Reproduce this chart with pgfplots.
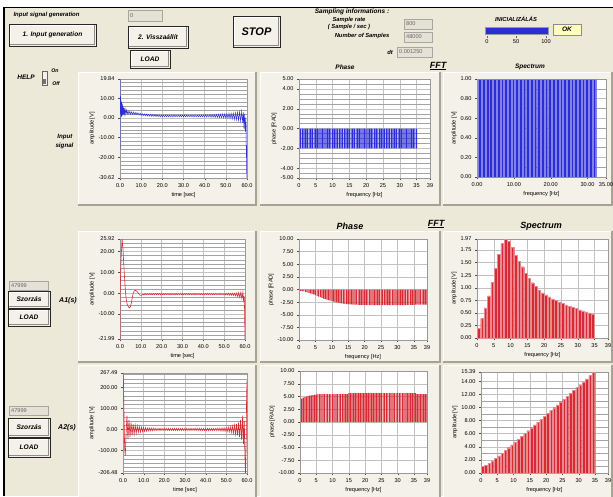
\documentclass[border=0pt]{standalone}
\usepackage{fontspec}
\setmainfont{Liberation Sans}
\usepackage{pgfplots}
\pgfplotsset{compat=1.18}
\definecolor{bg}{RGB}{236,233,216}
\definecolor{face}{RGB}{244,242,232}
\definecolor{shadow}{RGB}{165,162,150}
\definecolor{boxbg}{RGB}{228,226,212}
\definecolor{lvblue}{RGB}{45,45,215}
\definecolor{lvred}{RGB}{214,42,52}
\newcommand{\tk}{\fontsize{5.6}{6.2}\selectfont}
\newcommand{\bi}[1]{\fontsize{#1}{#1}\selectfont\bfseries\itshape}
\newcommand{\lvframe}[4]{%
 \fill[face] (#1,-#2) rectangle (#3,-#4);
 \draw[white,line width=0.8pt] (#1,-#4) -- (#1,-#2) -- (#3,-#2);
 \draw[shadow,line width=1.6pt] (#3,-#2) -- (#3,-#4) -- (#1,-#4);}
\newcommand{\btn}[6]{%
 \fill[face] (#1,-#2) rectangle (#3,-#4);
 \draw[white,line width=0.8pt] (#1+1.2,-#4+1.2) -- (#1+1.2,-#2-1.2) -- (#3-1.2,-#2-1.2);
 \draw[black!45,line width=0.8pt] (#3-1.2,-#2-1.2) -- (#3-1.2,-#4+1.2) -- (#1+1.2,-#4+1.2);
 \draw[black!85,line width=0.6pt] (#1,-#2) rectangle (#3,-#4);
 \node[font=\bi{#6}] at ({(#1+#3)/2},{-(#2+#4)/2}) {#5};}
\newcommand{\ind}[5]{%
 \fill[boxbg] (#1,-#2) rectangle (#3,-#4);
 \draw[black!35,line width=0.4pt] (#1,-#2) rectangle (#3,-#4);
 \node[anchor=west,font=\tk,text=black!60,inner sep=1pt] at (#1+1,{-(#2+#4)/2}) {#5};}
\pgfplotsset{
 lv/.style={scale only axis, anchor=north west,
  axis background/.style={fill=white},
  axis line style={black!40,line width=0.4pt},
  xmajorgrids, ymajorgrids, yminorgrids,
  major grid style={black!24,line width=0.4pt},
  minor grid style={black!36,line width=0.3pt},
  tick align=outside, major tick length=2pt, minor tick length=0pt,
  tick style={black!70,line width=0.3pt},
  xtick pos=bottom, ytick pos=left,
  tick label style={font=\tk}, label style={font=\tk},
  /pgf/number format/assume math mode=true,
  xticklabel style={yshift=-0.5pt},
  xlabel style={yshift=2.5pt}, ylabel style={yshift=-3pt}},
 t1/.style={xticklabel style={/pgf/number format/fixed,/pgf/number format/fixed zerofill,/pgf/number format/precision=1}},
 x2/.style={xticklabel style={/pgf/number format/fixed,/pgf/number format/fixed zerofill,/pgf/number format/precision=2}},
 y2/.style={yticklabel style={/pgf/number format/fixed,/pgf/number format/fixed zerofill,/pgf/number format/precision=2}},
}
\begin{document}
\begin{tikzpicture}[x=1pt,y=1pt]
\useasboundingbox (0,0) rectangle (613,-496);
\fill[white] (0,0) rectangle (613,-496);
\fill[bg] (4,-8) rectangle (613,-496);
\draw[black,line width=1.4pt] (4,-496) -- (4,-7.5) -- (613,-7.5);
% frames
\lvframe{78}{72}{256}{205}
\lvframe{260}{72}{440}{205}
\lvframe{443}{72}{612}{205}
\lvframe{78}{231}{256}{362}
\lvframe{260}{231}{440}{362}
\lvframe{443}{231}{612}{362}
\lvframe{78}{365}{256}{500}
\lvframe{260}{365}{440}{500}
\lvframe{443}{365}{612}{500}
% top controls
\node[anchor=west,font=\bi{6}] at (10,-15) {Input signal generation};
\ind{128}{10}{162}{21}{0}
\btn{9}{24}{96}{46}{1. Input generation}{6.6}
\btn{128}{26}{188}{48}{2. Vissza\'all\'it}{6.6}
\btn{130}{50}{170}{68}{LOAD}{6.6}
\btn{233}{16}{280}{47}{STOP}{11}
\node[font=\bi{6.5}] at (352,-11.5) {Sampling informations :};
\node[font=\bi{5.8}] at (349,-20) {Sample rate};
\node[font=\bi{5.8}] at (349,-27) {( Sample / sec )};
\node[font=\bi{5.8}] at (362,-36) {Number of Samples};
\node[font=\bi{5.8}] at (390,-52) {dt};
\ind{404}{19}{432}{29}{800}
\ind{404}{32}{432}{42}{48000}
\ind{397}{47}{432}{57}{0.001250}
\node[font=\bi{5.8}] at (516,-19) {INICIALIZ\'AL\'AS};
\fill[lvblue] (485,-27) rectangle (548,-34);
\draw[black!40,line width=0.4pt] (485,-27) rectangle (548,-34);
\draw[black!60,line width=0.3pt] (487,-36) -- (487,-38) (516,-36) -- (516,-38) (546,-36) -- (546,-38);
\node[font=\tk] at (487,-42) {0};
\node[font=\tk] at (516,-42) {50};
\node[font=\tk] at (546,-42) {100};
\fill[yellow!25] (553,-24) rectangle (581,-35);
\draw[black!45,line width=0.4pt] (553,-24) rectangle (581,-35);
\node[font=\bi{6.5}] at (567,-29.5) {OK};
% help toggle
\node[font=\bi{6.5}] at (26,-77) {HELP};
\fill[face] (42,-71) rectangle (47,-85);
\draw[black!60,line width=0.4pt] (42,-71) rectangle (47,-85);
\fill[black!55] (42.8,-79) rectangle (46.2,-84);
\node[font=\bi{5.2}] at (55,-71) {On};
\node[font=\bi{5.2}] at (56,-84) {Off};
\node[anchor=east,font=\bi{6.2}] at (76,-137) {Input};
\node[anchor=east,font=\bi{6.2}] at (77,-146) {signal};
% titles
\node[font=\bi{6.5}] at (345,-67) {Phase};
\node[font=\bi{9}] at (438,-66) {\underline{FFT}};
\node[font=\bi{6.5}] at (530,-67) {Spectrum};
\node[font=\bi{9}] at (350,-226) {Phase};
\node[font=\bi{9}] at (436,-224) {\underline{FFT}};
\node[font=\bi{9}] at (541,-226) {Spectrum};
% left controls rows 2 and 3
\ind{9}{281}{48}{290}{47999}
\btn{8}{291}{50}{308}{Szorz\'as}{6.6}
\btn{8}{309}{50}{326}{LOAD}{6.6}
\node[font=\bi{7}] at (68,-301) {A1(s)};
\ind{9}{406}{48}{415}{47999}
\btn{8}{418}{50}{437}{Szorz\'as}{6.6}
\btn{8}{438}{50}{457}{LOAD}{6.6}
\node[font=\bi{7}] at (67,-428) {A2(s)};
% ---------- row 1 ----------
\begin{axis}[lv, at={(120pt,-79pt)}, width=127pt, height=99pt,
 xmin=0, xmax=60, ymin=-30.62, ymax=19.84,
 xtick={0,10,...,60}, ytick={-30.62,-20,-10,0,10,19.84},
 minor ytick={-28,-26,...,18}, t1, y2,
 xlabel={time [sec]}, ylabel={amplitude [V]}]
\addplot[lvblue, line width=0.5pt] coordinates {
(0,-16)(0.02,19.84)(0.12,4)(0.25,11)(0.4,2)(0.55,9)(0.7,0.5)(0.85,8)(1,1)(1.15,7)(1.3,1.5)(1.5,6)(1.7,1.8)(1.9,5)(2.1,2)(2.4,4.5)(2.7,2)(3,4)
(3.4,2)(3.8,3.6)(4.2,2)(4.6,3.3)(5,1.9)(5.5,3.1)(6,1.8)(6.5,3)(7,1.7)(7.5,2.8)(8,1.6)(8.5,2.6)(9,1.5)(9.5,2.4)(10,1.3)(10.5,2.2)(11,1.2)(11.5,2.1)(12,1.1)(12.5,2)(13,1)(13.5,1.9)(14,0.9)(14.5,1.8)(15,0.8)(15.5,1.7)(16,0.8)(16.5,1.7)(17,0.7)(17.5,1.6)(18,0.7)(18.5,1.6)(19,0.6)(19.5,1.5)
(20,0.6)(20.5,1.5)(21,0.6)(21.5,1.5)(22,0.6)(22.5,1.5)(23,0.6)(23.5,1.5)(24,0.6)(24.5,1.5)(25,0.6)(25.5,1.5)(26,0.6)(26.5,1.5)(27,0.6)(27.5,1.5)(28,0.6)(28.5,1.5)(29,0.6)(29.5,1.5)
(30,0.6)(30.5,1.5)(31,0.6)(31.5,1.5)(32,0.6)(32.5,1.5)(33,0.6)(33.5,1.5)(34,0.6)(34.5,1.5)(35,0.6)(35.5,1.5)(36,0.6)(36.5,1.5)(37,0.6)(37.5,1.5)(38,0.6)(38.5,1.5)(39,0.6)(39.5,1.5)
(40,0.6)(40.5,1.6)(41,0.5)(41.5,1.6)(42,0.5)(42.5,1.7)(43,0.4)(43.5,1.7)(44,0.4)(44.5,1.8)(45,0.3)(45.5,1.8)(46,0.3)(46.5,1.9)(47,0.2)(47.5,1.9)(48,0.1)(48.5,2)(49,0)(49.5,2.1)
(50,-0.1)(50.5,2.2)(51,-0.2)(51.5,2.3)(52,-0.3)(52.5,2.4)(53,-0.5)(53.5,2.5)(54,-0.7)(54.5,2.6)(55,-0.9)(55.5,2.8)(56,-1.2)(56.5,3)(57,-1.6)(57.5,3.2)(58,-2.5)(58.3,2.8)(58.6,-5.5)(58.9,2)(59.2,-7)(59.5,0)(59.7,-20)(59.8,-14)(59.9,-30.62)(60,-26)};
\end{axis}
\begin{axis}[lv, at={(299pt,-79pt)}, width=131pt, height=99pt,
 xmin=0, xmax=39, ymin=-5, ymax=5,
 xtick={0,5,...,35,39}, ytick={-5,-4,-2,0,2,4,5},
 minor ytick={-4.5,-3.5,...,4.5,-3,-1,1,3}, y2,
 xlabel={frequency [Hz]}, ylabel={phase [RAD]}]
\addplot[ybar, bar width=0.33, fill=lvblue, draw=none] coordinates {
(0.5,-2)(1,-2)(1.5,-2)(2,-2)(2.5,-2)(3,-2)(3.5,-2)(4,-2)(4.5,-2)(5,-2)(5.5,-2)(6,-2)(6.5,-2)(7,-2)(7.5,-2)(8,-2)(8.5,-2)(9,-2)(9.5,-2)(10,-2)
(10.5,-2)(11,-2)(11.5,-2)(12,-2)(12.5,-2)(13,-2)(13.5,-2)(14,-2)(14.5,-2)(15,-2)(15.5,-2)(16,-2)(16.5,-2)(17,-2)(17.5,-2)(18,-2)(18.5,-2)(19,-2)(19.5,-2)(20,-2)
(20.5,-2)(21,-2)(21.5,-2)(22,-2)(22.5,-2)(23,-2)(23.5,-2)(24,-2)(24.5,-2)(25,-2)(25.5,-2)(26,-2)(26.5,-2)(27,-2)(27.5,-2)(28,-2)(28.5,-2)(29,-2)(29.5,-2)(30,-2)
(30.5,-2)(31,-2)(31.5,-2)(32,-2)(32.5,-2)(33,-2)(33.5,-2)(34,-2)(34.5,-2)(35,-2)};
\end{axis}
\begin{axis}[lv, at={(477pt,-79pt)}, width=129pt, height=98pt,
 xmin=0, xmax=35, ymin=0, ymax=1,
 xtick={0,10,20,30,35}, ytick={0,0.2,...,1.0},
 minor ytick={0.1,0.3,0.5,0.7,0.9}, x2, y2,
 xlabel={frequency [Hz]}, ylabel={amplitude [V]}]
\addplot[ybar, bar width=0.78, fill=lvblue, draw=white!40!lvblue, line width=0.2pt] coordinates {
(0.8,1)(1.8,1)(2.8,1)(3.8,1)(4.8,1)(5.8,1)(6.8,1)(7.8,1)(8.8,1)(9.8,1)(10.8,1)(11.8,1)(12.8,1)(13.8,1)(14.8,1)(15.8,1)
(16.8,1)(17.8,1)(18.8,1)(19.8,1)(20.8,1)(21.8,1)(22.8,1)(23.8,1)(24.8,1)(25.8,1)(26.8,1)(27.8,1)(28.8,1)(29.8,1)(30.8,1)(31.8,1)};
\end{axis}
% ---------- row 2 ----------
\begin{axis}[lv, at={(120pt,-239pt)}, width=125pt, height=100pt,
 xmin=0, xmax=60, ymin=-21.99, ymax=25.92,
 xtick={0,10,...,60}, ytick={-21.99,-10,0,10,20,25.92},
 minor ytick={-20,-18,...,24}, t1, y2,
 xlabel={time [sec]}, ylabel={amplitude [V]}]
\addplot[lvred, line width=0.6pt] coordinates {
(0,-21.99)(0.1,2)(0.5,16)(1,25.92)(1.4,22)(1.8,14)(2.2,7)(2.6,1)(3,-3)(3.5,-5.5)(4,-6.5)(4.5,-7)(5,-6.5)(5.5,-4.5)(6,-1.5)(6.5,0.5)(7,1.2)(7.5,1.3)(8,1)(8.5,0.4)(9,-0.3)(9.5,-0.8)(10,-1.1)(10.5,-1)(11,-0.5)(11.5,-0.9)
(12,-0.2)(12.5,-0.8)(13,-0.2)(13.5,-0.8)(14,-0.2)(14.5,-0.8)(15,-0.2)(15.5,-0.8)(16,-0.2)(16.5,-0.8)(17,-0.2)(17.5,-0.8)(18,-0.2)(18.5,-0.8)(19,-0.2)(19.5,-0.8)
(20,-0.2)(20.5,-0.8)(21,-0.2)(21.5,-0.8)(22,-0.2)(22.5,-0.8)(23,-0.2)(23.5,-0.8)(24,-0.2)(24.5,-0.8)(25,-0.2)(25.5,-0.8)(26,-0.2)(26.5,-0.8)(27,-0.2)(27.5,-0.8)(28,-0.2)(28.5,-0.8)(29,-0.2)(29.5,-0.8)
(30,-0.2)(30.5,-0.8)(31,-0.2)(31.5,-0.8)(32,-0.2)(32.5,-0.8)(33,-0.2)(33.5,-0.8)(34,-0.2)(34.5,-0.8)(35,-0.2)(35.5,-0.8)(36,-0.2)(36.5,-0.8)(37,-0.2)(37.5,-0.8)(38,-0.2)(38.5,-0.8)(39,-0.2)(39.5,-0.8)
(40,-0.2)(40.5,-0.8)(41,-0.2)(41.5,-0.8)(42,-0.2)(42.5,-0.8)(43,-0.2)(43.5,-0.8)(44,-0.2)(44.5,-0.8)(45,-0.2)(45.5,-0.8)(46,-0.2)(46.5,-0.8)(47,-0.2)(47.5,-0.8)(48,-0.2)(48.5,-0.8)(49,-0.2)(49.5,-0.8)
(50,-0.2)(50.5,-0.9)(51,-0.1)(51.5,-0.9)(52,-0.1)(52.5,-1)(53,-0.1)(53.5,-1)(54,-0.1)(54.5,-1.1)
(55,-0.1)(55.5,-1.3)(56,0)(56.5,-1.6)(57,0.2)(57.5,-2)(58,0.4)(58.5,-2.6)(59,0.5)(59.3,-3.5)(59.6,-1.5)(59.8,-8)(60,-21.99)};
\end{axis}
\begin{axis}[lv, at={(299pt,-239pt)}, width=128pt, height=101pt,
 xmin=0, xmax=39, ymin=-10, ymax=10,
 xtick={0,5,...,35,39}, ytick={-10,-7.5,...,10}, y2,
 xlabel={frequency [Hz]}, ylabel={phase [RAD]}]
\addplot[ybar, bar width=0.33, fill=lvred, draw=none] coordinates {
(0.5,-0.25)(1,-0.3)(1.5,-0.35)(2,-0.45)(2.5,-0.55)(3,-0.65)(3.5,-0.75)(4,-0.85)(4.5,-0.95)(5,-1.1)(5.5,-1.25)(6,-1.4)(6.5,-1.5)(7,-1.65)(7.5,-1.8)(8,-1.9)(8.5,-2)(9,-2.1)(9.5,-2.2)(10,-2.3)
(10.5,-2.4)(11,-2.5)(11.5,-2.55)(12,-2.6)(12.5,-2.7)(13,-2.75)(13.5,-2.8)(14,-2.85)(14.5,-2.9)(15,-2.9)(15.5,-2.95)(16,-2.95)(16.5,-3)(17,-3)(17.5,-3)(18,-3.05)(18.5,-3.05)(19,-3.05)(19.5,-3.05)(20,-3.05)
(20.5,-3.1)(21,-3.1)(21.5,-3.1)(22,-3.1)(22.5,-3.1)(23,-3.1)(23.5,-3.1)(24,-3.1)(24.5,-3.1)(25,-3.1)(25.5,-3.1)(26,-3.1)(26.5,-3.1)(27,-3.1)(27.5,-3.1)(28,-3.1)(28.5,-3.1)(29,-3.1)(29.5,-3.1)(30,-3.1)
(30.5,-3.1)(31,-3.1)(31.5,-3.1)(32,-3.1)(32.5,-3.1)(33,-3.05)(33.5,-3.05)(34,-3.05)(34.5,-3.05)(35,-3.05)(35.5,-3)(36,-3)(36.5,-3)(37,-3)(37.5,-3)(38,-3)(38.5,-3)(39,-3)};
\end{axis}
\begin{axis}[lv, at={(477pt,-239pt)}, width=131pt, height=99pt,
 xmin=0, xmax=39, ymin=0, ymax=1.97,
 xtick={0,5,...,35,39}, ytick={0,0.25,...,1.75,1.97}, y2,
 xlabel={frequency [Hz]}, ylabel={amplitude [V]}]
\addplot[ybar, bar width=0.8, fill=lvred, draw=white!45!lvred, line width=0.2pt] coordinates {
(0.5,0.19)(1.5,0.39)(2.5,0.60)(3.5,0.84)(4.5,1.11)(5.5,1.39)(6.5,1.67)(7.5,1.88)(8.5,1.97)(9.5,1.92)(10.5,1.80)(11.5,1.65)(12.5,1.53)(13.5,1.42)(14.5,1.29)(15.5,1.19)(16.5,1.10)(17.5,1.03)
(18.5,0.96)(19.5,0.90)(20.5,0.86)(21.5,0.82)(22.5,0.78)(23.5,0.75)(24.5,0.72)(25.5,0.69)(26.5,0.66)(27.5,0.63)(28.5,0.61)(29.5,0.59)(30.5,0.56)(31.5,0.54)(32.5,0.52)(33.5,0.50)(34.5,0.48)};
\end{axis}
% ---------- row 3 ----------
\begin{axis}[lv, at={(123pt,-373pt)}, width=124pt, height=100pt,
 xmin=0, xmax=60, ymin=-206.48, ymax=267.49,
 xtick={0,10,...,60}, ytick={-206.48,-100,0,100,200,267.49},
 minor ytick={-200,-180,...,260}, t1, y2,
 xlabel={time [sec]}, ylabel={amplitude [V]}]
\addplot[lvred, line width=0.6pt] coordinates {
(0,267.49)(0.2,240)(0.5,60)(0.8,-90)(1.1,-125)(1.5,-20)(1.9,65)(2.4,-45)(2.9,45)(3.4,-35)(3.9,32)(4.4,-28)(4.9,25)(5.4,-22)(5.9,20)(6.4,-18)(6.9,16)(7.4,-14)(7.9,13)(8.4,-12)(8.9,11)(9.4,-10)(9.9,9)(10.4,-9)(10.9,8)(11.4,-8)(11.9,7)(12.4,-7)(12.9,7)(13.4,-6)(13.9,6)(14.4,-6)(14.9,6)
(15.4,-5)(15.9,5)(16.4,-5)(16.9,5)(17.4,-5)(17.9,5)(18.4,-5)(18.9,5)(19.4,-5)(19.9,5)(20.4,-5)(20.9,5)(21.4,-5)(21.9,5)(22.4,-5)(22.9,5)(23.4,-5)(23.9,5)(24.4,-5)(24.9,5)
(25.4,-5)(25.9,5)(26.4,-5)(26.9,5)(27.4,-5)(27.9,5)(28.4,-5)(28.9,5)(29.4,-5)(29.9,5)(30.4,-5)(30.9,5)(31.4,-5)(31.9,5)(32.4,-5)(32.9,5)(33.4,-5)(33.9,5)(34.4,-5)(34.9,5)
(35.4,-5)(35.9,5)(36.4,-5)(36.9,5)(37.4,-5)(37.9,5)(38.4,-5)(38.9,5)(39.4,-5)(39.9,5)(40.4,-5)(40.9,5)(41.4,-5)(41.9,5)(42.4,-5)(42.9,5)(43.4,-5)(43.9,5)(44.4,-5)(44.9,5)
(45.4,-5)(45.9,6)(46.4,-6)(46.9,6)(47.4,-7)(47.9,7)(48.4,-8)(48.9,8)(49.4,-9)(49.9,9)(50.4,-10)(50.9,11)(51.4,-12)(51.9,13)(52.4,-14)(52.9,16)(53.4,-18)(53.9,20)(54.4,-22)(54.9,25)
(55.4,-28)(55.9,32)(56.4,-36)(56.9,45)(57.4,-50)(57.9,65)(58.3,-70)(58.7,40)(59,-130)(59.3,-206.48)(59.6,-60)(59.8,150)(60,230)};
\end{axis}
\begin{axis}[lv, at={(300pt,-371pt)}, width=127pt, height=102pt,
 xmin=0, xmax=39, ymin=-10, ymax=10,
 xtick={0,5,...,35,39}, ytick={-10,-7.5,...,10}, y2,
 xlabel={frequency [Hz]}, ylabel={phase [RAD]}]
\addplot[ybar, bar width=0.33, fill=lvred, draw=none] coordinates {
(0.5,4.6)(1,4.8)(1.5,4.9)(2,5)(2.5,5.1)(3,5.15)(3.5,5.2)(4,5.25)(4.5,5.3)(5,5.35)(5.5,5.45)(6,5.45)(6.5,5.45)(7,5.45)(7.5,5.45)(8,5.45)(8.5,5.45)(9,5.45)(9.5,5.45)(10,5.45)
(10.5,5.45)(11,5.45)(11.5,5.45)(12,5.45)(12.5,5.45)(13,5.45)(13.5,5.45)(14,5.45)(14.5,5.45)(15,5.65)(15.5,5.65)(16,5.65)(16.5,5.65)(17,5.65)(17.5,5.65)(18,5.65)(18.5,5.65)(19,5.65)(19.5,5.65)(20,5.65)
(20.5,5.65)(21,5.65)(21.5,5.65)(22,5.65)(22.5,5.65)(23,5.65)(23.5,5.65)(24,5.65)(24.5,5.65)(25,5.65)(25.5,5.65)(26,5.65)(26.5,5.65)(27,5.65)(27.5,5.65)(28,5.65)(28.5,5.65)(29,5.65)(29.5,5.65)(30,5.65)
(30.5,5.65)(31,5.65)(31.5,5.65)(32,5.65)(32.5,5.65)(33,5.65)(33.5,5.65)(34,5.65)(34.5,5.65)(35,5.65)(35.5,5.65)(36,5.45)(36.5,5.45)(37,5.45)(37.5,5.45)(38,5.45)(38.5,5.45)(39,5.45)};
\end{axis}
\begin{axis}[lv, at={(481pt,-372pt)}, width=127pt, height=101pt,
 xmin=0, xmax=39, ymin=0, ymax=15.39,
 xtick={0,5,...,35,39}, ytick={0,2,...,14,15.39},
 minor ytick={1,3,...,13}, y2,
 xlabel={frequency [Hz]}, ylabel={amplitude [V]}]
\addplot[ybar, bar width=0.8, fill=lvred, draw=white!45!lvred, line width=0.2pt] coordinates {
(0.5,1.02)(1.5,1.20)(2.5,1.49)(3.5,1.84)(4.5,2.22)(5.5,2.62)(6.5,3.03)(7.5,3.45)(8.5,3.87)(9.5,4.30)(10.5,4.73)(11.5,5.16)(12.5,5.59)(13.5,6.02)(14.5,6.46)(15.5,6.89)(16.5,7.33)(17.5,7.77)
(18.5,8.20)(19.5,8.64)(20.5,9.08)(21.5,9.51)(22.5,9.95)(23.5,10.39)(24.5,10.83)(25.5,11.26)(26.5,11.70)(27.5,12.14)(28.5,12.58)(29.5,13.02)(30.5,13.46)(31.5,13.90)(32.5,14.34)(33.5,14.85)(34.5,15.30)};
\end{axis}
\end{tikzpicture}
\end{document}
